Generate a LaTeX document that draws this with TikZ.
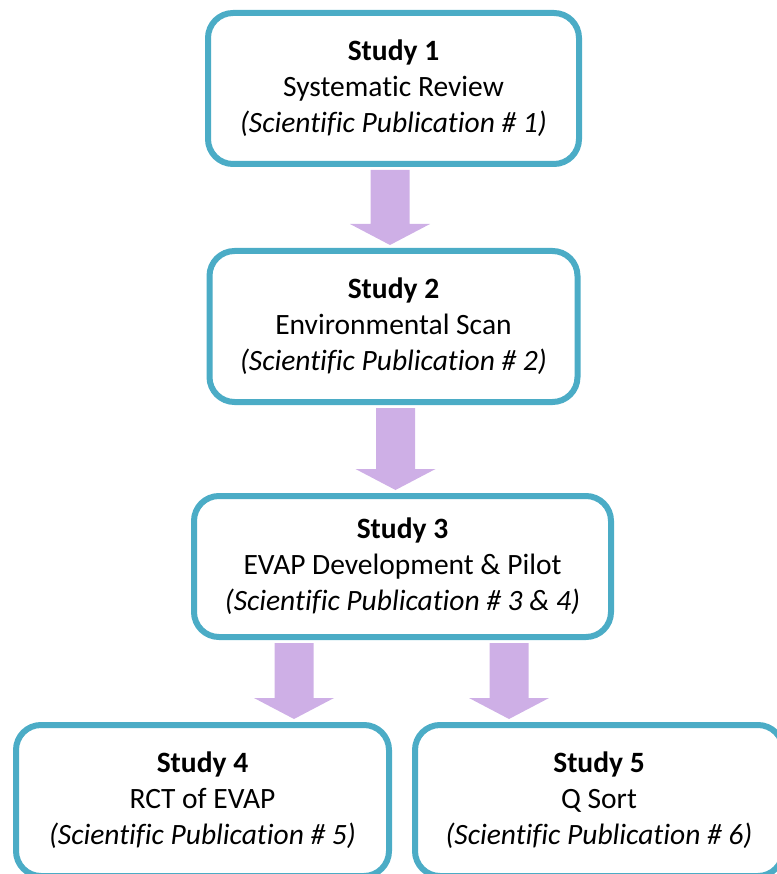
\documentclass[tikz,border=0pt]{standalone}
\usepackage{fontspec}
\setmainfont[Ligatures=NoCommon]{Carlito}
\usepackage{tikz}
\usetikzlibrary{positioning, calc}

\definecolor{boxline}{HTML}{4BACC6}
\definecolor{arrowfill}{HTML}{CEAFE6}

% fat block arrow: shaft top #1, tip #2 (same x)
\newcommand{\fatarrow}[2]{%
  \fill[arrowfill] ($(#1)+(-19.5,0)$) -- ($(#1)+(19.5,0)$) -- ($(#2)+(19.5,-21)$)
    -- ($(#2)+(40,-21)$) -- (#2) -- ($(#2)+(-40,-21)$) -- ($(#2)+(-19.5,-21)$) -- cycle;}

\begin{document}
\begin{tikzpicture}[
    x=1pt, y=-1pt,
    box/.style={
        draw=boxline,
        line width=6pt,
        rounded corners=25pt,
        fill=white,
        minimum height=151pt,
        inner sep=0pt,
        outer sep=0pt,
        align=center,
        font=\fontsize{29.5}{36}\selectfont
    }
]
\useasboundingbox (0,0) rectangle (776,874);

% Main column
\node (st1) [box, minimum width=371pt] at (393.5,88.5)
    {\textbf{Study 1}\\ Systematic Review\\ \textit{(Scientific Publication \# 1)}};
\node (st2) [box, minimum width=368pt, below=87pt of st1]
    {\textbf{Study 2}\\ Environmental Scan\\ \textit{(Scientific Publication \# 2)}};
\node (st3) [box, minimum width=417pt, minimum height=141pt, below=94pt of st2, xshift=9pt]
    {\textbf{Study 3}\\ EVAP Development \& Pilot\\ \textit{(Scientific Publication \# 3 \& 4)}};

% Bottom row
\node (st4) [box, minimum width=373pt, below=88pt of st3, xshift=-200pt]
    {\textbf{Study 4}\\ RCT of EVAP\\ \textit{(Scientific Publication \# 5)}};
\node (st5) [box, minimum width=368pt, below=88pt of st3, xshift=196.5pt]
    {\textbf{Study 5}\\ Q Sort\\ \textit{(Scientific Publication \# 6)}};

% Arrows
\coordinate (a1) at ($(st1.south)+(-3.5,6)$);
\coordinate (t1) at ($(a1 |- st2.north)+(0,-6)$);
\coordinate (a2) at ($(st2.south)+(2,6)$);
\coordinate (t2) at ($(a2 |- st3.north)+(0,-6)$);
\coordinate (a3) at ($(st3.south)+(-108.5,6)$);
\coordinate (t3) at ($(a3 |- st4.north)+(0,-6)$);
\coordinate (a4) at ($(st3.south)+(106.5,6)$);
\coordinate (t4) at ($(a4 |- st5.north)+(0,-6)$);
\fatarrow{a1}{t1}
\fatarrow{a2}{t2}
\fatarrow{a3}{t3}
\fatarrow{a4}{t4}

\end{tikzpicture}
\end{document}
